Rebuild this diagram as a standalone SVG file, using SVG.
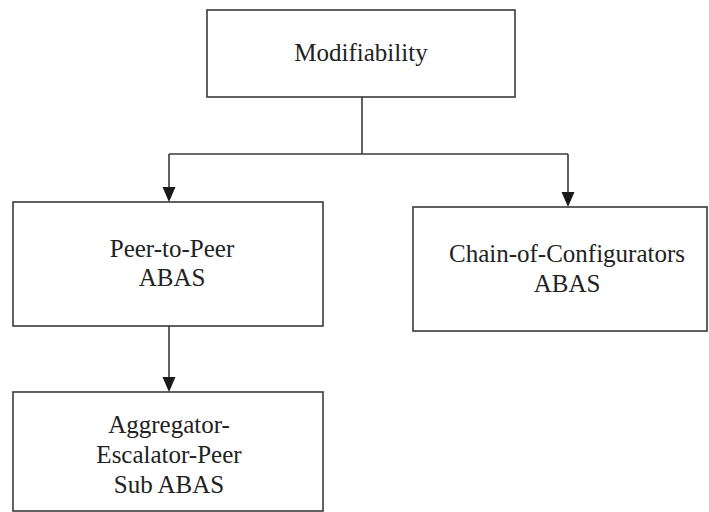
<svg xmlns="http://www.w3.org/2000/svg" width="709" height="512" viewBox="0 0 709 512">
  <style>
    .box { fill: #ffffff; stroke: #3a3a3a; stroke-width: 1.6; }
    .lbl { font-size: 25px; fill: #222222; text-anchor: middle; }
    .wire { fill: none; stroke: #3a3a3a; stroke-width: 1.6; }
    .head { fill: #1a1a1a; }
  </style>
  <rect width="709" height="512" fill="#ffffff"/>

  <g id="connectors">
    <path class="wire" d="M362,97 V154"/>
    <path class="wire" d="M169,154 H568"/>
    <path class="wire" d="M169,154 V187"/>
    <path class="head" d="M162.5,187 L175.5,187 L169,202 Z"/>
    <path class="wire" d="M568,154 V192"/>
    <path class="head" d="M561.5,192 L574.5,192 L568,207 Z"/>
    <path class="wire" d="M169,326 V377"/>
    <path class="head" d="M162.5,377 L175.5,377 L169,392 Z"/>
  </g>

  <g font-family="Liberation Serif, Times New Roman, serif">
    <g id="modifiability">
      <rect class="box" x="207" y="10" width="308" height="87"/>
      <text class="lbl" x="361" y="61">Modifiability</text>
    </g>

    <g id="peer-to-peer">
      <rect class="box" x="13" y="202" width="310" height="124"/>
      <text class="lbl" x="172" y="257">Peer-to-Peer</text>
      <text class="lbl" x="172" y="286">ABAS</text>
    </g>

    <g id="chain-of-configurators">
      <rect class="box" x="413" y="207" width="294" height="124"/>
      <text class="lbl" x="567" y="262">Chain-of-Configurators</text>
      <text class="lbl" x="567" y="292">ABAS</text>
    </g>

    <g id="aggregator-escalator-peer">
      <rect class="box" x="13" y="392" width="310" height="119"/>
      <text class="lbl" x="169" y="433">Aggregator-</text>
      <text class="lbl" x="169" y="463">Escalator-Peer</text>
      <text class="lbl" x="169" y="493">Sub ABAS</text>
    </g>
  </g>
</svg>
